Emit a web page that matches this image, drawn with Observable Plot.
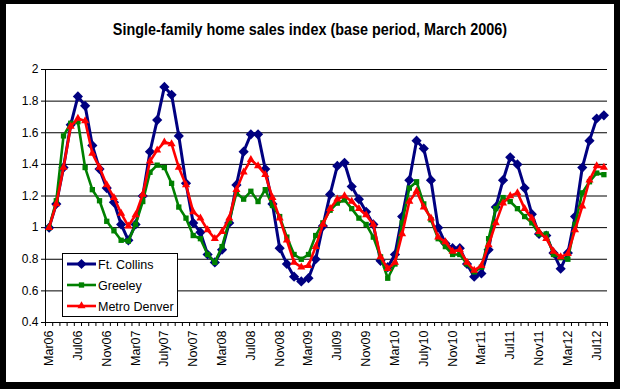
<!DOCTYPE html>
<html><head><meta charset="utf-8">
<script src="https://cdn.jsdelivr.net/npm/d3@7"></script>
<script src="https://cdn.jsdelivr.net/npm/@observablehq/plot@0.6"></script>
<style>
html,body{margin:0;padding:0;background:#000;width:620px;height:389px;overflow:hidden;}
#frame{position:absolute;left:6px;top:4px;width:608px;height:378px;background:#fff;}
#title{position:absolute;left:0;top:20px;width:620px;text-align:center;font:bold 14.4px "Liberation Sans",Arial,sans-serif;color:#000;transform:scaleY(1.15);transform-origin:50% 0;}
#chart{position:absolute;left:0;top:0;}
#legend{position:absolute;left:62px;top:253px;width:114px;height:62px;border:1px solid #000;background:#fff;}
</style></head>
<body>
<div id="frame"></div>
<div id="title">Single-family home sales index (base period, March 2006)</div>
<div id="chart"></div>
<div id="legend"></div>
<script>
const months = [
"Mar06","Apr06","May06","Jun06","Jul06","Aug06","Sep06","Oct06","Nov06","Dec06",
"Jan07","Feb07","Mar07","Apr07","May07","Jun07","July07","Aug07","Sep07","Oct07","Nov07","Dec07",
"Jan08","Feb08","Mar08","Apr08","May08","Jun08","Jul08","Aug08","Sep08","Oct08","Nov08","Dec08",
"Jan09","Feb09","Mar09","Apr09","May09","Jun09","Jul09","Aug09","Sep09","Oct09","Nov09","Dec09",
"Jan10","Feb10","Mar10","Apr10","May10","Jun10","July10","Aug10","Sep10","Oct10","Nov10","Dec10",
"Jan11","Feb11","Mar11","Apr11","May11","Jun11","Jul11","Aug11","Sep11","Oct11","Nov11","Dec11",
"Jan12","Feb12","Mar12","Apr12","May12","Jun12","Jul12","Aug12"];

const ftCollins = [
1.00,1.15,1.38,1.65,1.83,1.77,1.52,1.37,1.25,1.16,
1.02,0.92,1.02,1.20,1.48,1.68,1.89,1.84,1.58,1.28,
1.03,0.97,0.83,0.78,0.86,1.03,1.27,1.48,1.59,1.59,
1.37,1.15,0.87,0.77,0.69,0.66,0.68,0.80,1.01,1.21,
1.39,1.41,1.26,1.18,1.10,1.02,0.79,0.75,0.83,1.07,
1.30,1.55,1.50,1.30,1.00,0.90,0.87,0.87,0.77,0.69,
0.71,0.86,1.13,1.30,1.445,1.40,1.25,1.085,0.96,0.95,
0.84,0.74,0.84,1.07,1.38,1.55,1.69,1.71];

const greeley = [
1.00,1.17,1.58,1.66,1.67,1.38,1.24,1.17,1.04,0.98,
0.92,0.915,1.02,1.165,1.35,1.395,1.38,1.28,1.13,1.06,
0.95,0.93,0.83,0.78,0.88,1.04,1.22,1.18,1.23,1.165,
1.24,1.14,1.07,0.94,0.83,0.80,0.83,0.95,1.03,1.11,
1.155,1.175,1.12,1.06,1.02,0.94,0.815,0.68,0.77,1.03,
1.25,1.29,1.15,1.05,0.93,0.88,0.83,0.83,0.77,0.72,
0.75,0.93,1.12,1.19,1.165,1.12,1.07,1.03,0.96,0.96,
0.83,0.81,0.80,1.02,1.22,1.29,1.345,1.335];

const metroDenver = [
1.00,1.15,1.38,1.64,1.69,1.675,1.47,1.38,1.27,1.19,
1.09,1.01,1.08,1.21,1.42,1.49,1.54,1.53,1.38,1.27,
1.10,1.06,0.985,0.93,0.975,1.06,1.24,1.35,1.43,1.39,
1.335,1.19,1.06,0.92,0.78,0.75,0.76,0.88,1.02,1.12,
1.18,1.20,1.165,1.12,1.08,1.02,0.815,0.74,0.78,0.96,
1.165,1.23,1.13,1.06,0.94,0.91,0.85,0.86,0.78,0.73,
0.76,0.89,1.03,1.155,1.20,1.22,1.12,1.06,0.975,0.93,
0.85,0.815,0.835,0.985,1.135,1.30,1.39,1.38];

const seriesNames = ["Ft. Collins","Greeley","Metro Denver"];
const seriesColors = ["#000080","#008000","#ff0000"];
const seriesSymbols = ["diamond2","square","triangle"];
const yTicks = [0.4,0.6,0.8,1.0,1.2,1.4,1.6,1.8,2.0];
const xTickLabels = ["Mar06","Jul06","Nov06","Mar07","July07","Nov07","Mar08","Jul08","Nov08","Mar09","Jul09","Nov09","Mar10","July10","Nov10","Mar11","Jul11","Nov11","Mar12","Jul12"];

const labelIdx = xTickLabels.map(l => months.indexOf(l));
const boundaries = d3.range(months.length + 1).map(i => i - 0.5);
const allSeries = [ftCollins, greeley, metroDenver];
const radii = [4.6, 3.0, 3.0];
const widths = [3, 2.6, 2.6];

const marks = [
  Plot.ruleY(yTicks, {stroke: "#000", strokeWidth: 1}),
  Plot.ruleX([-0.5], {stroke: "#000", strokeWidth: 1}),
  Plot.axisY({ticks: yTicks, tickSize: 4, tickPadding: 3, tickFormat: d => String(+d.toFixed(1)), fontSize: 12, label: null}),
  Plot.axisX({ticks: boundaries, tickSize: 4, tickFormat: () => "", label: null}),
  Plot.axisX({ticks: labelIdx, tickSize: 0, tickPadding: 8, tickRotate: -90, tickFormat: i => months[i], fontSize: 12.5, label: null})
];
allSeries.forEach((vals, s) => {
  marks.push(Plot.line(vals, {x: (d, i) => i, y: d => d, stroke: seriesColors[s], strokeWidth: widths[s]}));
  marks.push(Plot.dot(vals, {x: (d, i) => i, y: d => d, symbol: seriesSymbols[s], r: radii[s], fill: seriesColors[s], stroke: "none"}));
});

const chart = Plot.plot({
  width: 620, height: 389,
  marginLeft: 45, marginRight: 13, marginTop: 69, marginBottom: 67,
  style: {background: "transparent", fontFamily: '"Liberation Sans", Arial, sans-serif', fontSize: "12px", color: "#000", overflow: "visible"},
  x: {domain: [-0.5, months.length - 0.5], label: null},
  y: {domain: [0.4, 2.0], label: null},
  marks
});
document.getElementById("chart").appendChild(chart);

// legend
const lg = d3.select("#legend").append("svg").attr("width", 114).attr("height", 62)
  .style("display", "block");
const rowsY = [10, 31, 52];
const symMap = {diamond2: d3.symbolDiamond2, square: d3.symbolSquare, triangle: d3.symbolTriangle};
seriesNames.forEach((name, s) => {
  const g = lg.append("g").attr("transform", `translate(0,${rowsY[s]})`);
  g.append("line").attr("x1", 4).attr("x2", 33).attr("y1", 0).attr("y2", 0)
    .attr("stroke", seriesColors[s]).attr("stroke-width", widths[s]);
  g.append("path").attr("transform", "translate(18.5,0)")
    .attr("d", d3.symbol(symMap[seriesSymbols[s]], Math.PI * radii[s] * radii[s])())
    .attr("fill", seriesColors[s]);
  g.append("text").attr("x", 35).attr("y", 0).attr("dy", "0.36em")
    .attr("font-family", '"Liberation Sans", Arial, sans-serif').attr("font-size", 12.5)
    .attr("fill", "#000").text(name);
});
</script>
</body></html>
